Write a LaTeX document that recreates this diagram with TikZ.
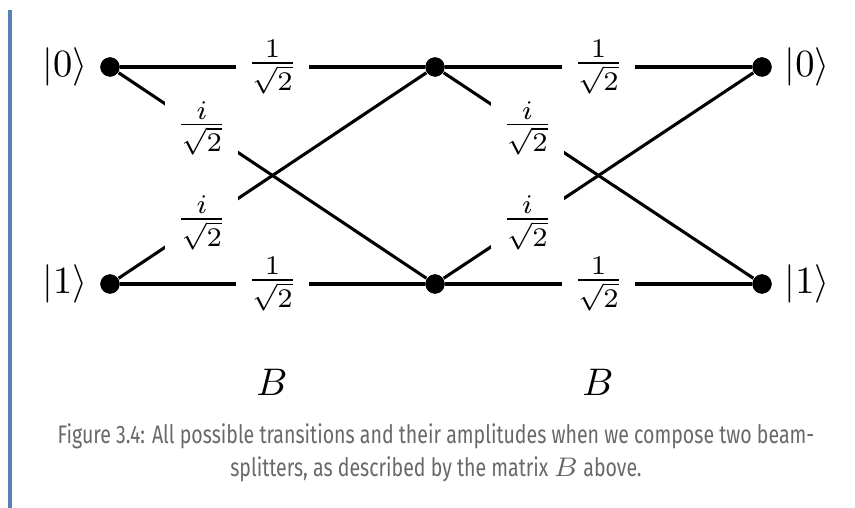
\documentclass[tikz,border=0pt]{standalone}
\usepackage{amsmath}
\usepackage{fontspec}
\newfontfamily\capfont[FakeStretch=0.77]{Fira Sans}
\definecolor{barblue}{RGB}{88,130,182}
\definecolor{capgray}{RGB}{104,104,104}
\usetikzlibrary{positioning}

\begin{document}
\begin{tikzpicture}[x=0.26pt, y=-0.26pt,
  dot/.style={circle, fill=black, inner sep=0pt, minimum size=5pt},
  wire/.style={line width=0.8pt},
  amp/.style={fill=white, inner sep=3pt},
  ket/.style={inner sep=2pt},
  caption/.style={align=center, text=capgray, font=\capfont\fontsize{6.6}{8.6}\selectfont}]

  \useasboundingbox (0,0) rectangle (855,508);

  %% ===== side bar =====
  \fill[barblue] (8,10) rectangle (12,508);

  %% ===== nodes =====
  \node[dot] (a0) at (110,67)  {};
  \node[dot] (a1) at (110,284) {};
  \node[dot] (b0) at (435,67)  {};
  \node[dot] (b1) at (435,284) {};
  \node[dot] (c0) at (762,67)  {};
  \node[dot] (c1) at (762,284) {};

  % kets
  \node[ket, left=1pt of a0]  (in0)  {$|0\rangle$};
  \node[ket, left=1pt of a1]  (in1)  {$|1\rangle$};
  \node[ket, right=1pt of c0] (out0) {$|0\rangle$};
  \node[ket, right=1pt of c1] (out1) {$|1\rangle$};

  %% ===== first splitter =====
  \draw[wire] (a0) -- node[amp, pos=0.27] {$\frac{i}{\sqrt{2}}$} (b1);
  \draw[wire] (a1) -- node[amp, pos=0.27] {$\frac{i}{\sqrt{2}}$} (b0);
  \draw[wire] (a0) -- node[amp] {$\frac{1}{\sqrt{2}}$} (b0);
  \draw[wire] (a1) -- node[amp] {$\frac{1}{\sqrt{2}}$} (b1);

  %% ===== second splitter =====
  \draw[wire] (b0) -- node[amp, pos=0.27] {$\frac{i}{\sqrt{2}}$} (c1);
  \draw[wire] (b1) -- node[amp, pos=0.27] {$\frac{i}{\sqrt{2}}$} (c0);
  \draw[wire] (b0) -- node[amp] {$\frac{1}{\sqrt{2}}$} (c0);
  \draw[wire] (b1) -- node[amp] {$\frac{1}{\sqrt{2}}$} (c1);

  % redraw dots on top
  \foreach \n in {a0,a1,b0,b1,c0,c1}
    \fill (\n) circle (2.5pt);

  %% ===== matrix labels =====
  \node (B1) at (272,382) {$B$};
  \node (B2) at (598,382) {$B$};

  %% ===== caption =====
  \node[caption] (cap) at (436,453)
    {Figure 3.4: All possible transitions and their amplitudes when we compose two beam-\\
     splitters, as described by the matrix $B$ above.};

\end{tikzpicture}
\end{document}
